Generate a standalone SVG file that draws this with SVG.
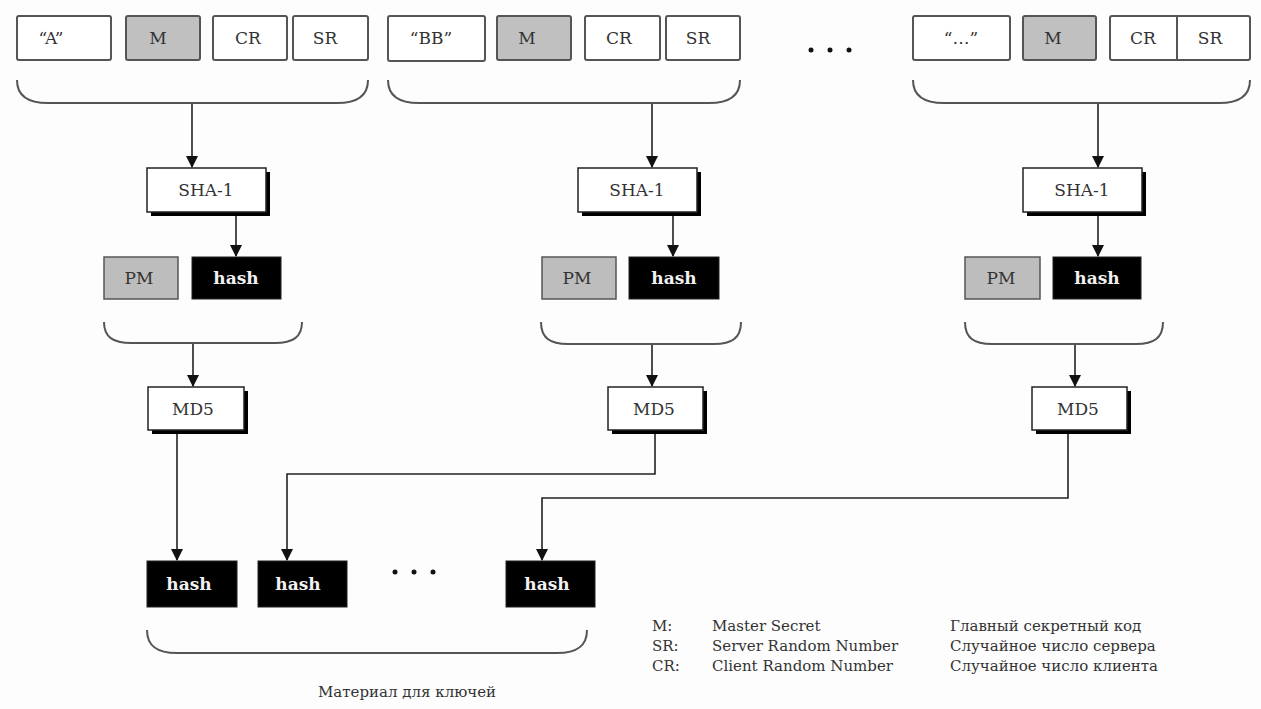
<svg xmlns="http://www.w3.org/2000/svg" width="1261" height="709" viewBox="0 0 1261 709" font-family="'DejaVu Serif', serif">
<defs>
<marker id="ah" markerWidth="12" markerHeight="12" refX="11" refY="6" orient="auto" markerUnits="userSpaceOnUse">
<path d="M0,0 L12,6 L0,12 Z" fill="#111"/>
</marker>
</defs>
<style>
text{font-family:'DejaVu Serif',serif;fill:#333}
.in{fill:#fff;stroke:#555;stroke-width:2}
.g{fill:#c0c0c0;stroke:#555;stroke-width:2}
.pm{fill:#bdbdbd;stroke:#555;stroke-width:1.5}
.hb{fill:#000;stroke:#222;stroke-width:1}
.ht{fill:#f2f2f2;font-weight:bold;font-size:17px;text-anchor:middle}
.t{font-size:17px;text-anchor:middle}
.box{fill:#fff;stroke:#222;stroke-width:1.5}
.sh{fill:#000}
.br{fill:none;stroke:#555;stroke-width:2}
.c{fill:none;stroke:#222;stroke-width:1.6}
.lg{font-size:15px}
</style>
<rect width="1261" height="709" fill="#fdfdfd"/>

<g id="inputs1">
<rect class="in" x="17" y="16" width="94" height="44" rx="2"/><text class="t" x="51" y="44">“A”</text>
<rect class="g" x="126" y="16" width="74" height="44" rx="2"/><text class="t" x="158" y="44">M</text>
<rect class="in" x="213" y="16" width="74" height="44" rx="2"/><text class="t" x="248" y="44">CR</text>
<rect class="in" x="293" y="16" width="75" height="44" rx="2"/><text class="t" x="325" y="44">SR</text>
<path class="br" d="M17,80 C17,96 28,103 48,103 L337,103 C357,103 368,96 368,80"/>
</g>
<g id="inputs2">
<rect class="in" x="388" y="16" width="97" height="45" rx="2"/><text class="t" x="431" y="44">“BB”</text>
<rect class="g" x="497" y="16" width="74" height="44" rx="2"/><text class="t" x="527" y="44">M</text>
<rect class="in" x="585" y="16" width="75" height="44" rx="2"/><text class="t" x="619" y="44">CR</text>
<rect class="in" x="666" y="16" width="74" height="44" rx="2"/><text class="t" x="698" y="44">SR</text>
<path class="br" d="M388,80 C388,96 399,103 419,103 L709,103 C729,103 740,96 740,80"/>
</g>
<g id="dots-top">
<circle cx="811" cy="50" r="2.5" fill="#111"/><circle cx="830" cy="50" r="2.5" fill="#111"/><circle cx="849" cy="50" r="2.5" fill="#111"/>
</g>
<g id="inputs3">
<rect class="in" x="913" y="16" width="97" height="44" rx="2"/><text class="t" x="961" y="44">“…”</text>
<rect class="g" x="1023" y="16" width="73" height="44" rx="2"/><text class="t" x="1053" y="44">M</text>
<rect class="in" x="1110" y="16" width="140" height="44" rx="2"/><line x1="1177" y1="16" x2="1177" y2="60" stroke="#555" stroke-width="2"/>
<text class="t" x="1143" y="44">CR</text><text class="t" x="1210" y="44">SR</text>
<path class="br" d="M913,80 C913,96 924,103 944,103 L1219,103 C1239,103 1250,96 1250,80"/>
</g>

<g id="sha1-1"><rect class="sh" x="151" y="172" width="119" height="44"/><rect class="box" x="147" y="168" width="119" height="44"/><text class="t" x="206" y="196">SHA-1</text></g>
<g id="sha1-2"><rect class="sh" x="582" y="172" width="119" height="44"/><rect class="box" x="578" y="168" width="119" height="44"/><text class="t" x="637" y="196">SHA-1</text></g>
<g id="sha1-3"><rect class="sh" x="1027" y="172" width="119" height="44"/><rect class="box" x="1023" y="168" width="119" height="44"/><text class="t" x="1082" y="196">SHA-1</text></g>

<g id="pm1"><rect class="pm" x="104" y="257" width="74" height="42"/><text class="t" x="139" y="284">PM</text></g>
<g id="hash1"><rect class="hb" x="192" y="257" width="89" height="42"/><text class="ht" x="236" y="284">hash</text></g>
<g id="pm2"><rect class="pm" x="542" y="257" width="74" height="42"/><text class="t" x="577" y="284">PM</text></g>
<g id="hash2"><rect class="hb" x="629" y="257" width="90" height="42"/><text class="ht" x="674" y="284">hash</text></g>
<g id="pm3"><rect class="pm" x="965" y="257" width="75" height="42"/><text class="t" x="1001" y="284">PM</text></g>
<g id="hash3"><rect class="hb" x="1053" y="257" width="88" height="42"/><text class="ht" x="1097" y="284">hash</text></g>

<g id="braces-mid">
<path class="br" d="M104,322 C104,337 113,343 131,343 L275,343 C293,343 302,337 302,322"/>
<path class="br" d="M541,322 C541,338 550,344 568,344 L714,344 C732,344 741,338 741,322"/>
<path class="br" d="M965,322 C965,338 974,344 992,344 L1136,344 C1154,344 1163,338 1163,322"/>
</g>

<g id="md5-1"><rect class="sh" x="152" y="391" width="96" height="43"/><rect class="box" x="148" y="387" width="96" height="43"/><text class="t" x="193" y="415">MD5</text></g>
<g id="md5-2"><rect class="sh" x="612" y="391" width="95" height="43"/><rect class="box" x="608" y="387" width="95" height="43"/><text class="t" x="654" y="415">MD5</text></g>
<g id="md5-3"><rect class="sh" x="1036" y="391" width="95" height="43"/><rect class="box" x="1032" y="387" width="95" height="43"/><text class="t" x="1078" y="415">MD5</text></g>

<g id="out1"><rect class="hb" x="147" y="561" width="90" height="46"/><text class="ht" x="189" y="590">hash</text></g>
<g id="out2"><rect class="hb" x="258" y="561" width="89" height="46"/><text class="ht" x="298" y="590">hash</text></g>
<g id="dots-bottom"><circle cx="395" cy="572" r="2.5" fill="#111"/><circle cx="414" cy="572" r="2.5" fill="#111"/><circle cx="433" cy="572" r="2.5" fill="#111"/></g>
<g id="out3"><rect class="hb" x="506" y="561" width="89" height="46"/><text class="ht" x="547" y="590">hash</text></g>

<g id="brace-bottom"><path class="br" d="M147,630 C147,646 157,653 177,653 L557,653 C577,653 587,646 587,630"/></g>
<text class="lg" x="407" y="697" text-anchor="middle">Материал для ключей</text>

<g id="legend">
<text class="lg" x="652" y="631">M:</text><text class="lg" x="712" y="631">Master Secret</text><text class="lg" x="950" y="631">Главный секретный код</text>
<text class="lg" x="652" y="651">SR:</text><text class="lg" x="712" y="651">Server Random Number</text><text class="lg" x="950" y="651">Случайное число сервера</text>
<text class="lg" x="652" y="671">CR:</text><text class="lg" x="712" y="671">Client Random Number</text><text class="lg" x="950" y="671">Случайное число клиента</text>
</g>

<g id="connectors">
<path class="c" d="M192,104 L192,167" marker-end="url(#ah)"/>
<path class="c" d="M652,104 L652,167" marker-end="url(#ah)"/>
<path class="c" d="M1098,104 L1098,167" marker-end="url(#ah)"/>
<path class="c" d="M236,216 L236,256" marker-end="url(#ah)"/>
<path class="c" d="M673,216 L673,256" marker-end="url(#ah)"/>
<path class="c" d="M1098,216 L1098,256" marker-end="url(#ah)"/>
<path class="c" d="M193,344 L193,386" marker-end="url(#ah)"/>
<path class="c" d="M652,345 L652,386" marker-end="url(#ah)"/>
<path class="c" d="M1075,345 L1075,386" marker-end="url(#ah)"/>
<path class="c" d="M177,434 L177,560" marker-end="url(#ah)"/>
<path class="c" d="M655,434 L655,474 L287,474 L287,560" marker-end="url(#ah)"/>
<path class="c" d="M1068,434 L1068,498 L542,498 L542,560" marker-end="url(#ah)"/>
</g>
</svg>
